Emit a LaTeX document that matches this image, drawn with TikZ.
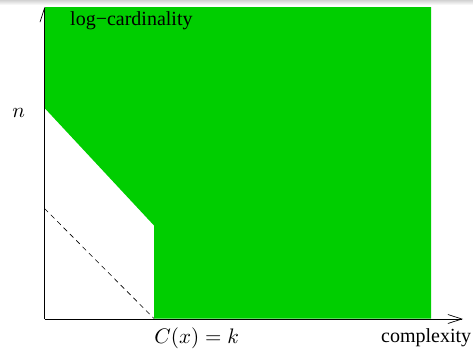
\documentclass[tikz,border=0pt]{standalone}
\usepackage{fontspec}
\setmainfont{Liberation Serif}
\usetikzlibrary{arrows.meta}
\definecolor{areagreen}{HTML}{00CE00}
\tikzset{
  axis/.style={line width=0.7pt, -{Straight Barb[length=14pt,width=9pt,line width=0.7pt]}},
  lbl/.style={inner sep=0pt, anchor=base west, font=\fontsize{20}{24}\selectfont},
  mlbl/.style={inner sep=0pt, anchor=base west, scale=2.1},
}
\begin{document}
\begin{tikzpicture}[x=1pt,y=-1pt]
\useasboundingbox (0,0) rectangle (473,348);
\shade[top color=gray!35, bottom color=white] (0,0) rectangle (473,5);
% axes
\coordinate (O) at (44.5,319);
\coordinate (ytop) at (44.5,7);
\coordinate (xend) at (463,319);
\draw[axis] (O) -- (ytop);
% green region
\fill[areagreen] (45,7) -- (431,7) -- (431,318.5) -- (154,318.5) -- (154,225.5) -- (45,108.5) -- cycle;
\draw[axis] (O) -- (xend);
% dashed line
\coordinate (d1) at (44.5,208.5);
\coordinate (d2) at (154,318.5);
\draw[dashed, line width=0.6pt, dash pattern=on 5pt off 4pt] (d1) -- (d2);
% labels
\node[lbl] (card) at (70,25) {log−cardinality};
\node[lbl] (comp) at (381,342) {complexity};
\node[mlbl] (ck) at (154,343) {$C(x)=k$};
\node[mlbl] (n) at (12,117) {$n$};
\end{tikzpicture}
\end{document}
